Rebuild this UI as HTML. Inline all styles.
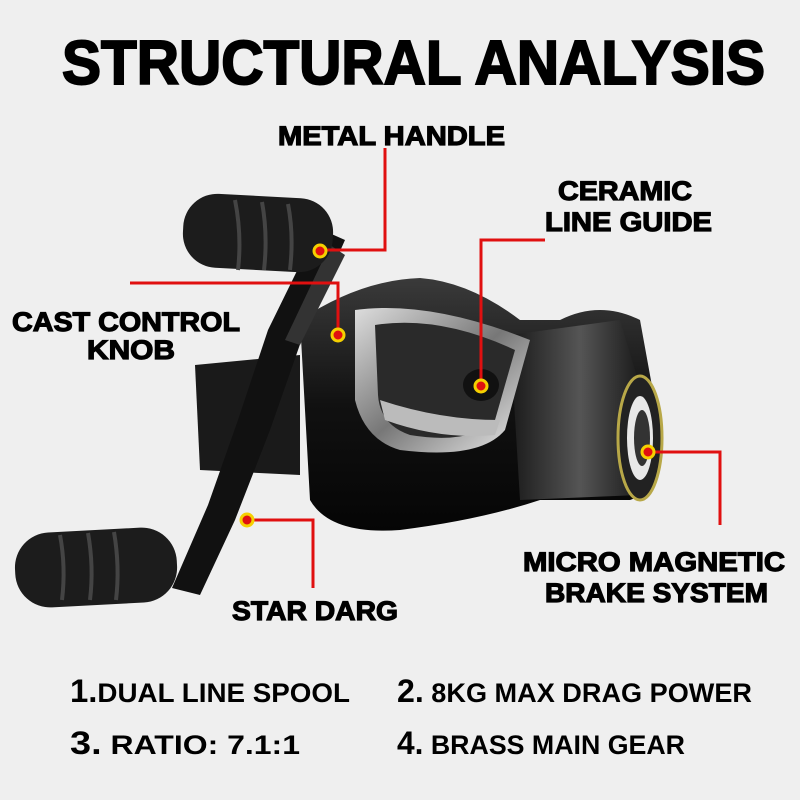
<!DOCTYPE html><html><head><style>body{margin:0;background:#efefef}svg{display:block}text{font-family:"Liberation Sans",sans-serif;font-weight:bold;fill:#000}</style></head><body>
<svg width="800" height="800" viewBox="0 0 800 800">
<rect width="800" height="800" fill="#efefef"/>
<defs>
<linearGradient id="g1" x1="0" y1="0" x2="0" y2="1"><stop offset="0" stop-color="#3a3a3a"/><stop offset=".5" stop-color="#111"/><stop offset="1" stop-color="#050505"/></linearGradient>
<linearGradient id="g2" x1="0" y1="0" x2="1" y2="0"><stop offset="0" stop-color="#1a1a1a"/><stop offset=".5" stop-color="#555"/><stop offset="1" stop-color="#111"/></linearGradient>
<linearGradient id="sil" x1="0" y1="0" x2="1" y2="1"><stop offset="0" stop-color="#ddd"/><stop offset=".5" stop-color="#777"/><stop offset="1" stop-color="#eee"/></linearGradient>
</defs>
<text x="62" y="84" font-size="62" textLength="703" lengthAdjust="spacingAndGlyphs" stroke="#000" stroke-width="2">STRUCTURAL ANALYSIS</text>
<!-- reel body -->
<path d="M195 365 L300 355 L300 475 L200 470 Z" fill="#1a1a1a"/>
<path d="M300 320 Q360 280 420 278 Q470 282 520 320 L560 320 Q600 300 640 320 L660 430 Q660 490 630 500 L540 500 Q480 520 400 530 Q330 535 310 500 Z" fill="url(#g1)"/>
<path d="M510 335 L620 320 L650 420 L640 495 L520 500 Z" fill="url(#g2)"/>
<path d="M355 310 Q430 300 530 340 L505 430 Q480 460 400 450 Q365 440 355 400 Z" fill="url(#sil)"/>
<path d="M375 325 Q440 315 515 350 L495 420 Q470 445 410 435 Q380 425 378 395 Z" fill="#2a2a2a"/>
<path d="M380 400 Q440 420 500 420 L495 435 Q440 440 385 420Z" fill="#bbb"/>
<ellipse cx="640" cy="438" rx="22" ry="62" fill="#222" stroke="#b8a848" stroke-width="3"/>
<ellipse cx="640" cy="438" rx="13" ry="42" fill="#e8e8e8"/>
<ellipse cx="642" cy="438" rx="8" ry="28" fill="#333"/>
<ellipse cx="481" cy="385" rx="18" ry="16" fill="#111"/>
<!-- handle -->
<path d="M318 228 L345 240 L305 330 L270 430 L235 520 L200 595 L172 588 L208 505 L238 420 L268 330 Z" fill="#111"/>
<path d="M330 245 L345 255 L300 345 L285 340 Z" fill="#333"/>
<rect x="183" y="196" width="150" height="74" rx="34" fill="#1c1c1c" transform="rotate(3 258 233)"/>
<path d="M235 200 Q242 235 238 270 M262 202 Q268 235 264 270 M288 204 Q294 235 290 270" stroke="#444" stroke-width="4" fill="none"/>
<rect x="15" y="530" width="162" height="75" rx="35" fill="#1c1c1c" transform="rotate(-3 96 567)"/>
<path d="M60 535 Q66 567 62 600 M88 533 Q94 567 90 600 M114 532 Q120 567 116 600" stroke="#444" stroke-width="4" fill="none"/>
<!-- red leaders -->
<g stroke="#e01010" stroke-width="3" fill="none">
<path d="M385 148 V250 H322"/>
<path d="M130 283 H338 V333"/>
<path d="M545 240 H481 V385"/>
<path d="M648 452 H720 V525"/>
<path d="M247 520 H313 V588"/>
</g>
<g fill="#e01010" stroke="#f5d000" stroke-width="3">
<circle cx="320" cy="251" r="6"/><circle cx="338" cy="335" r="6"/><circle cx="481" cy="386" r="6"/><circle cx="648" cy="452" r="6"/><circle cx="247" cy="520" r="6"/>
</g>
<g stroke="#000" stroke-width="1.2">
<text x="278" y="145" font-size="27" textLength="227" lengthAdjust="spacingAndGlyphs">METAL HANDLE</text>
<text x="558" y="200" font-size="27" textLength="134" lengthAdjust="spacingAndGlyphs">CERAMIC</text>
<text x="545" y="231" font-size="27" textLength="167" lengthAdjust="spacingAndGlyphs">LINE GUIDE</text>
<text x="12" y="331" font-size="27" textLength="228" lengthAdjust="spacingAndGlyphs">CAST CONTROL</text>
<text x="87" y="359" font-size="27" textLength="88" lengthAdjust="spacingAndGlyphs">KNOB</text>
<text x="523" y="571" font-size="27" textLength="262" lengthAdjust="spacingAndGlyphs">MICRO MAGNETIC</text>
<text x="545" y="602" font-size="27" textLength="223" lengthAdjust="spacingAndGlyphs">BRAKE SYSTEM</text>
<text x="232" y="620" font-size="27" textLength="166" lengthAdjust="spacingAndGlyphs">STAR DARG</text>
</g>
<g font-weight="normal">
<text x="70" y="702" font-size="27" textLength="280" lengthAdjust="spacingAndGlyphs"><tspan font-weight="bold" font-size="32">1.</tspan>DUAL LINE SPOOL</text>
<text x="397" y="702" font-size="27" textLength="355" lengthAdjust="spacingAndGlyphs"><tspan font-weight="bold" font-size="32">2.</tspan> 8KG MAX DRAG POWER</text>
<text x="70" y="754" font-size="27" textLength="230" lengthAdjust="spacingAndGlyphs"><tspan font-weight="bold" font-size="32">3.</tspan> RATIO:  7.1:1</text>
<text x="397" y="754" font-size="27" textLength="288" lengthAdjust="spacingAndGlyphs"><tspan font-weight="bold" font-size="32">4.</tspan> BRASS MAIN GEAR</text>
</g>
</svg>
</body></html>
